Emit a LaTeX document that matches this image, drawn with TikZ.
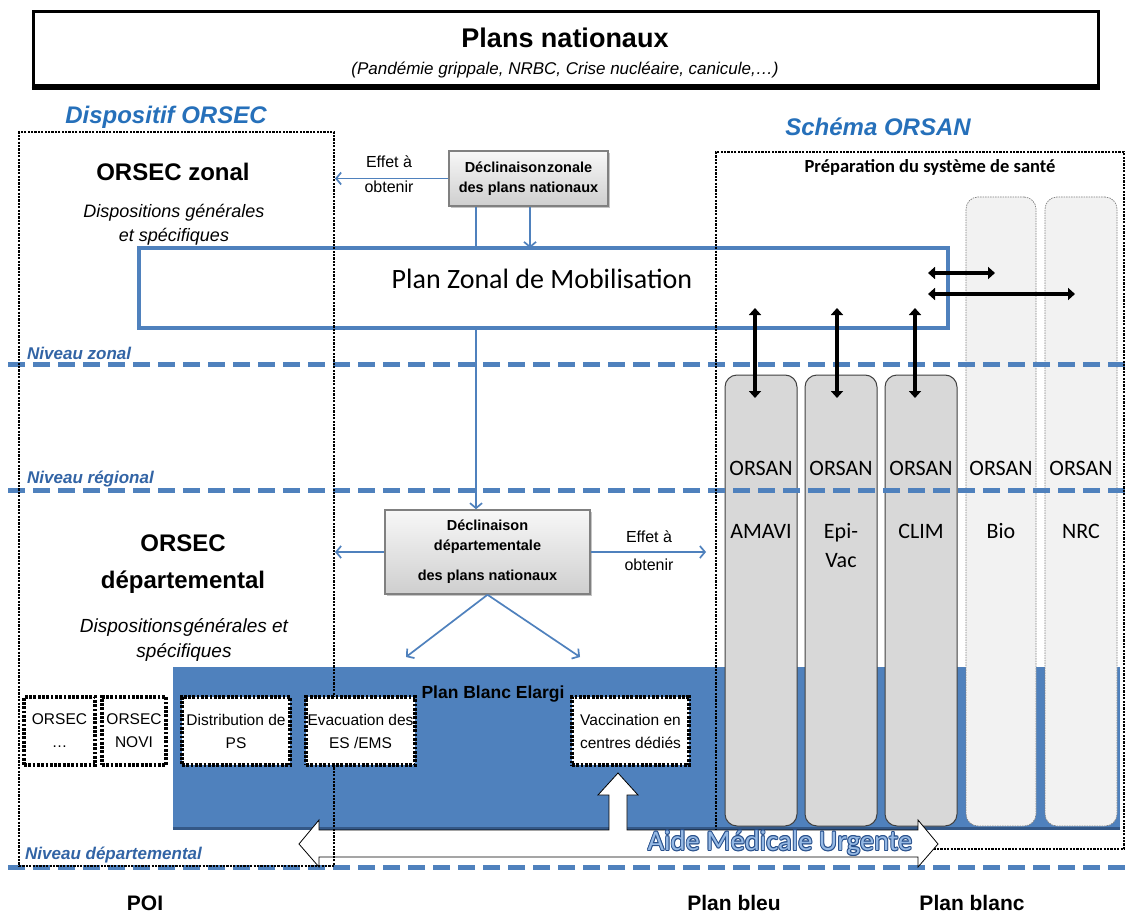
\documentclass[tikz,border=0pt]{standalone}
\usepackage{fontspec}
\setmainfont{Liberation Sans}
\newfontfamily\calfont{Carlito}
\usetikzlibrary{arrows.meta,shadows}
\definecolor{bl}{RGB}{79,129,189}
\definecolor{bldark}{RGB}{52,88,135}
\definecolor{tblue}{RGB}{38,112,186}
\definecolor{nblue}{RGB}{50,100,165}
\definecolor{colg}{RGB}{216,216,216}
\definecolor{colgl}{RGB}{242,242,242}
\definecolor{amuo}{RGB}{40,80,140}
\definecolor{amuf}{RGB}{150,185,228}
\tikzset{
 blarrow/.style={draw=bl, line width=1.7pt, -{Straight Barb[length=5pt,width=12pt]}},
 blline/.style={draw=bl, line width=1.7pt},
 dblarrow/.style={line width=4pt, {Triangle[length=7pt,width=12pt]}-{Triangle[length=7pt,width=12pt]}},
 dotrect/.style={draw=black, line width=2.8pt, dash pattern=on 2.2pt off 1.2pt},
 smallbox/.style={draw=black, fill=white, line width=3.8pt, dash pattern=on 2.8pt off 1.5pt, minimum width=#1, minimum height=68pt, align=center, inner sep=0pt, font=\fontsize{15.5}{23}\selectfont},
 levelline/.style={draw=bl, line width=5pt, dash pattern=on 17pt off 8pt},
 levtxt/.style={anchor=west, text=nblue, inner sep=0pt, font=\fontsize{17}{20}\selectfont\bfseries\itshape},
 declbox/.style={draw=gray, line width=1.5pt, top color=gray!6, bottom color=gray!38, drop shadow={opacity=0.45,shadow xshift=2pt,shadow yshift=-2pt}, align=center, inner sep=0pt, font=\bfseries},
 colA/.style={draw=black!75, fill=colg, line width=1pt, rounded corners=12pt, inner sep=0pt},
 colB/.style={draw=black!50, fill=colgl, line width=0.7pt, dash pattern=on 1.5pt off 1pt, rounded corners=12pt, inner sep=0pt},
 orsantxt/.style={font=\calfont\fontsize{22}{29}\selectfont, align=center, inner sep=0pt},
 titleblue/.style={text=tblue, font=\fontsize{24}{28}\selectfont\bfseries\itshape},
 bottomtxt/.style={font=\fontsize{21}{24}\selectfont\bfseries},
 amut/.style={font=\calfont\fontsize{28.5}{32}\selectfont, inner sep=0pt},
}
\begin{document}
\begin{tikzpicture}[x=1pt,y=-1pt]
\useasboundingbox (0,0) rectangle (1129,917);
\fill[white] (0,0) rectangle (1129,917);

% ---------- top box ----------
\node[draw=black, line width=3pt, minimum width=1065pt, minimum height=74pt, inner sep=0pt] (plans) at (565.5,49) {};
\draw[line width=3pt] ([yshift=-1.5pt]plans.south west) -- ([yshift=-1.5pt]plans.south east);
\node[font=\fontsize{27}{32}\selectfont\bfseries] (pntitle) at (565,38) {Plans nationaux};
\node[font=\fontsize{17}{20}\selectfont\itshape] (pnsub) at (565,70) {(Pandémie grippale, NRBC, Crise nucléaire, canicule,…)};

% ---------- Plan Blanc Elargi ----------
\node[fill=bl, minimum width=947pt, minimum height=163pt, inner sep=0pt] (pbe) at (646.5,748.5) {};
\draw[bldark, line width=3pt] ([yshift=1.5pt]pbe.south west) -- ([yshift=1.5pt]pbe.south east);

% ---------- ORSAN columns ----------
\node[colA, minimum width=72pt, minimum height=451pt] (c1) at (761,600.5) {};
\node[colA, minimum width=72pt, minimum height=451pt] (c2) at (841,600.5) {};
\node[colA, minimum width=72pt, minimum height=451pt] (c3) at (921,600.5) {};
\node[colB, minimum width=70pt, minimum height=629pt] (c4) at (1001,511.5) {};
\node[colB, minimum width=72pt, minimum height=629pt] (c5) at (1081,511.5) {};

% ---------- Plan Zonal de Mobilisation ----------
\node[draw=bl, line width=4pt, minimum width=809pt, minimum height=80pt, inner sep=0pt] (pzm) at (543.5,288) {};
\node[font=\calfont\fontsize{28}{32}\selectfont] (pzmt) at (542,279) {Plan Zonal de Mobilisation};

% ---------- level lines ----------
\coordinate (lz1) at (8,364);   \coordinate (lz2) at (1129,364);
\coordinate (lr1) at (8,490);   \coordinate (lr2) at (1129,490);
\coordinate (ld1) at (8,867);   \coordinate (ld2) at (1129,867);
\draw[levelline] (lz1) -- (lz2);
\draw[levelline] (lr1) -- (lr2);
\draw[levelline] (ld1) -- (ld2);
\node[levtxt] (nz) at (27,353) {Niveau zonal};
\node[levtxt] (nr) at (27,479) {Niveau régional};
\node[levtxt] (nd) at (25,855) {Niveau départemental};

% ---------- ORSAN frame (under the AMU arrow) ----------
\node[dotrect, minimum width=408pt, minimum height=697pt, inner sep=0pt] (orsan) at (920,500.5) {};

% ---------- AMU block arrow ----------
\filldraw[fill=white, draw=black, line width=0.8pt]
  (299,844) -- (319,820) -- (319,830) -- (609,830) -- (609,795) -- (598,795) -- (618,773)
  -- (638,795) -- (627,795) -- (627,830) -- (918,830) -- (918,820) -- (938,844)
  -- (918,867) -- (918,857) -- (319,857) -- (319,867) -- cycle;

% ---------- ORSEC frame ----------
\node[dotrect, minimum width=315pt, minimum height=734pt, inner sep=0pt] (orsec) at (176.5,499) {};

% ---------- small boxes ----------
\node[smallbox=71pt] (sb1) at (59.5,731) {ORSEC\\…};
\node[smallbox=64pt] (sb2) at (134,731) {ORSEC\\NOVI};
\node[smallbox=108pt] (sb3) at (236,731) {Distribution de\\PS};
\node[smallbox=109pt] (sb4) at (360.5,731) {Evacuation des\\ES /EMS};
\node[smallbox=117pt] (sb5) at (630.5,731) {Vaccination en\\centres dédiés};
\node[font=\fontsize{17.5}{21}\selectfont\bfseries] (pbet) at (493,694) {Plan Blanc Elargi};

% ---------- declinaison boxes ----------
\node[declbox, minimum width=159pt, minimum height=55pt, font=\fontsize{14.5}{20}\selectfont\bfseries] (zonbox) at (528.5,178.5) {Déclinaison\hspace{1pt}zonale\\des plans nationaux};
\node[declbox, minimum width=205pt, minimum height=84pt, font=\fontsize{14.5}{20}\selectfont\bfseries] (depbox) at (487.5,552) {Déclinaison\\départementale\\[10pt]des plans nationaux};

\coordinate (zl) at (335,178.5);
\coordinate (pz1) at (476,328);
\coordinate (zx1) at (476,248);
\coordinate (zx2) at (530,248);
\coordinate (dl) at (335,552);
\coordinate (dr) at (706,552);
\coordinate (dd1) at (406,657);
\coordinate (dd2) at (580,657);
\draw[blarrow] (zonbox.west) -- (zl);
\draw[blline] (zonbox.south -| zx1) -- (zx1);
\draw[blarrow] (zonbox.south -| zx2) -- (zx2);
\draw[blarrow] (pz1) -- (depbox.north -| pz1);
\draw[blarrow] (depbox.west) -- (dl);
\draw[blarrow] (depbox.east) -- (dr);
\draw[blarrow] (depbox.south) -- (dd1);
\draw[blarrow] (depbox.south) -- (dd2);

\node[font=\fontsize{16}{25}\selectfont, align=center] (ez) at (389,174) {Effet à\\obtenir};
\node[font=\fontsize{16}{28}\selectfont, align=center] (ed) at (649,551) {Effet à\\obtenir};

% ---------- black double arrows ----------
\coordinate (v1a) at (755,308); \coordinate (v1b) at (755,398);
\coordinate (v2a) at (837,308); \coordinate (v2b) at (837,398);
\coordinate (v3a) at (915,308); \coordinate (v3b) at (915,398);
\coordinate (h1a) at (928,273); \coordinate (h1b) at (995,273);
\coordinate (h2a) at (928,294); \coordinate (h2b) at (1075,294);
\draw[dblarrow] (v1a) -- (v1b);
\draw[dblarrow] (v2a) -- (v2b);
\draw[dblarrow] (v3a) -- (v3b);
\draw[dblarrow] (h1a) -- (h1b);
\draw[dblarrow] (h2a) -- (h2b);

% ---------- column labels ----------
\node[orsantxt] (o1) at (761,468) {ORSAN};
\node[orsantxt] (o2) at (841,468) {ORSAN};
\node[orsantxt] (o3) at (921,468) {ORSAN};
\node[orsantxt] (o4) at (1001,468) {ORSAN};
\node[orsantxt] (o5) at (1081,468) {ORSAN};
\node[orsantxt] (n1) at (761,531) {AMAVI};
\node[orsantxt] (n2) at (841,545.5) {Epi-\\Vac};
\node[orsantxt] (n3) at (921,531) {CLIM};
\node[orsantxt] (n4) at (1001,531) {Bio};
\node[orsantxt] (n5) at (1081,531) {NRC};
\node[font=\calfont\fontsize{18.5}{22}\selectfont\bfseries] (prep) at (930,167) {Préparation du système de santé};

% ---------- headings ----------
\node[titleblue] (dorsec) at (166,117) {Dispositif ORSEC};
\node[titleblue] (sorsan) at (878,127) {Schéma ORSAN};
\node[font=\fontsize{24}{28}\selectfont\bfseries] (oz) at (173,172) {ORSEC zonal};
\node[font=\fontsize{18}{24}\selectfont\itshape, align=center] (dz) at (174,225) {Dispositions générales\\et spécifiques};
\node[font=\fontsize{24}{37}\selectfont\bfseries, align=center] (od) at (183,564.5) {ORSEC\\départemental};
\node[font=\fontsize{19}{25}\selectfont\itshape, align=center] (ddp) at (184,639.5) {Dispositions\hspace{1pt}générales et\\spécifiques};

% ---------- AMU text ----------
\foreach \dx/\dy [count=\k] in {0.9/0,-0.9/0,0/0.9,0/-0.9,0.65/0.65,-0.65/0.65,0.65/-0.65,-0.65/-0.65}
  \node[amut, text=amuo, name=amuo\k] at (780+\dx,843+\dy) {Aide Médicale Urgente};
\node[amut, text=amuf] (amu) at (780,843) {Aide Médicale Urgente};

% ---------- bottom labels ----------
\node[bottomtxt] (poi) at (145,903) {POI};
\node[bottomtxt] (pbleu) at (734,903) {Plan bleu};
\node[bottomtxt] (pblanc) at (972,903) {Plan blanc};
\end{tikzpicture}
\end{document}
